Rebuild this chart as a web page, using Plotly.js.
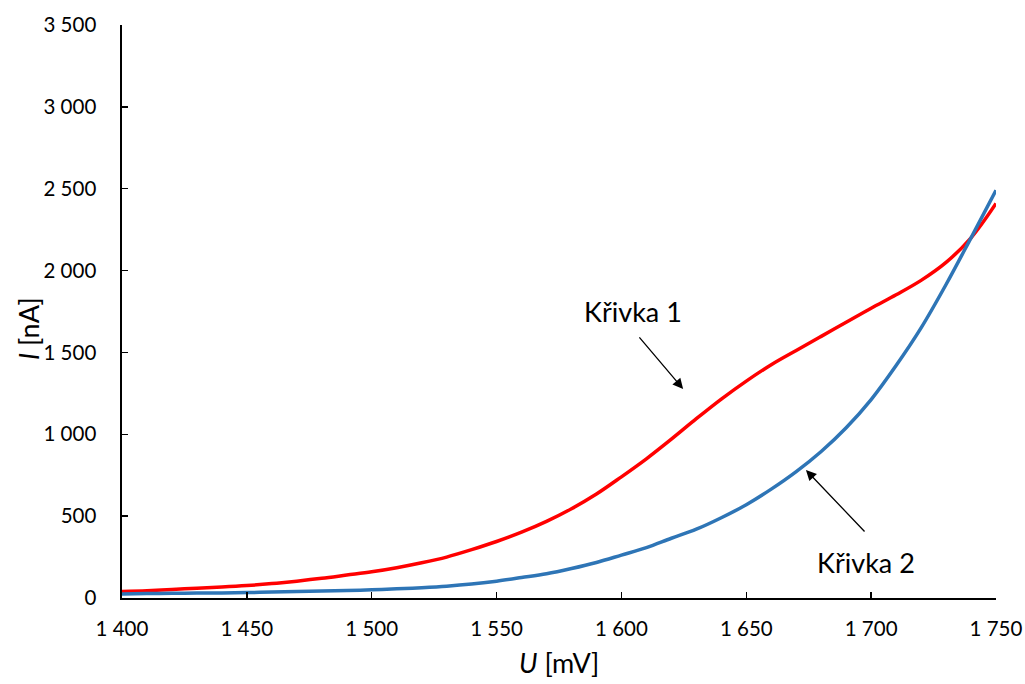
<!DOCTYPE html>
<html>
<head>
<meta charset="utf-8">
<script src="https://cdn.plot.ly/plotly-3.0.1.min.js"></script>
<style>html,body{margin:0;padding:0;background:#fff;}#chart{width:1025px;height:684px;}</style>
</head>
<body>
<div id="chart"></div>
<script>
const U = [1400,1410,1420,1430,1440,1450,1460,1470,1480,1490,1500,1510,1520,1530,1540,1550,1560,1570,1580,1590,1600,1610,1620,1630,1640,1650,1660,1670,1680,1690,1700,1710,1720,1730,1740,1750];
const curve1 = [40,45,52,60,67,76,88,103,120,140,160,185,215,250,295,345,402,468,545,635,740,850,970,1095,1215,1325,1425,1512,1598,1684,1770,1852,1940,2050,2200,2410];
const curve2 = [25,27,29,30,31,33,36,39,42,46,50,56,63,72,85,103,125,148,180,217,262,308,365,420,490,570,665,772,895,1040,1212,1420,1650,1915,2200,2490];
const labels = ["Křivka 1","Křivka 2"];
const xTitle = "<i>U</i> [mV]";
const yTitle = "<i>I</i> [nA]";

const font = "Lato, 'Open Sans', sans-serif";
const traces = [
  {x: U, y: curve1, mode: "lines", line: {color: "#FF0000", width: 3.5, shape: "spline", smoothing: 1}, name: labels[0]},
  {x: U, y: curve2, mode: "lines", line: {color: "#2E75B6", width: 3.5, shape: "spline", smoothing: 1}, name: labels[1]}
];
const axisCommon = {
  showgrid: false, zeroline: false, showline: true, linecolor: "#000", linewidth: 1.6,
  ticks: "inside", ticklen: 6, tickwidth: 1.5, tickcolor: "#000",
  tickfont: {family: font, size: 20.5, color: "#000"}, tickformat: ",d"
};
const titleFont = {family: font, size: 27, color: "#000"};
const layout = {
  width: 1025, height: 684,
  margin: {l: 122, r: 29, t: 25, b: 86},
  paper_bgcolor: "#fff", plot_bgcolor: "#fff",
  showlegend: false,
  separators: ", ",
  font: {family: font, color: "#000"},
  xaxis: Object.assign({}, axisCommon, {range: [1400, 1750], dtick: 50, tick0: 1400,
    ticklabelstandoff: 12}),
  yaxis: Object.assign({}, axisCommon, {range: [0, 3500], dtick: 500, tick0: 0,
    ticklabelstandoff: 20}),
  annotations: [
    {x: 0.5, y: -0.113, xref: "paper", yref: "paper", text: xTitle, showarrow: false,
     xanchor: "center", yanchor: "middle", font: titleFont},
    {x: -0.1076, y: 0.471, xref: "paper", yref: "paper", text: yTitle, showarrow: false,
     textangle: -90, xanchor: "center", yanchor: "middle", font: titleFont},
    {x: 1624.7, y: 1277, xref: "x", yref: "y", text: "", showarrow: true, ax: -45, ay: -53,
     arrowhead: 2, arrowsize: 1.6, arrowwidth: 1.3, arrowcolor: "#000", standoff: 0},
    {x: 1673.9, y: 782, xref: "x", yref: "y", text: "", showarrow: true, ax: 60, ay: 63,
     arrowhead: 2, arrowsize: 1.6, arrowwidth: 1.3, arrowcolor: "#000", standoff: 0},
    {x: 1604.6, y: 1747, xref: "x", yref: "y", text: labels[0], showarrow: false,
     font: titleFont},
    {x: 1697.9, y: 214, xref: "x", yref: "y", text: labels[1], showarrow: false,
     font: titleFont}
  ]
};
Plotly.newPlot("chart", traces, layout, {displayModeBar: false, staticPlot: true});
</script>
</body>
</html>
